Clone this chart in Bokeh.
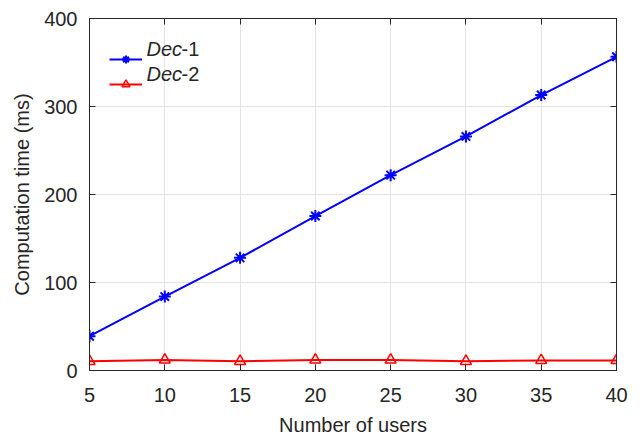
from bokeh.plotting import figure
from bokeh.models import (Range1d, FixedTicker, LinearAxis, Legend, LegendItem, Label)
from bokeh.embed import file_html
from bokeh.resources import INLINE

users = [5, 10, 15, 20, 25, 30, 35, 40]
dec1 = [39, 84, 128, 175.5, 222, 266, 313, 356.5]
dec2 = [10.5, 12, 10.5, 12, 12, 10.5, 11.5, 11.5]
x_ticks = [5, 10, 15, 20, 25, 30, 35, 40]
y_ticks = [0, 100, 200, 300, 400]
series_names = [("Dec", "-1"), ("Dec", "-2")]

FONT = "Liberation Sans"
TXT = "#262626"
FS = "20px"

p = figure(width=635, height=438, output_backend="svg", toolbar_location=None,
           x_range=Range1d(5, 40), y_range=Range1d(0, 400),
           min_border_left=89, min_border_right=19, min_border_top=18, min_border_bottom=68)
p.background_fill_color = "white"
p.border_fill_color = "white"
p.outline_line_color = None

for ax in (p.xaxis[0], p.yaxis[0]):
    ax.major_tick_in = 6
    ax.major_tick_out = 0
    ax.minor_tick_line_color = None
    ax.axis_line_color = TXT
    ax.major_tick_line_color = TXT
    ax.major_label_text_font = FONT
    ax.major_label_text_font_size = FS
    ax.major_label_text_color = TXT
    ax.axis_label_text_font = FONT
    ax.axis_label_text_font_size = FS
    ax.axis_label_text_color = TXT
    ax.axis_label_text_font_style = "normal"

p.xaxis.ticker = FixedTicker(ticks=x_ticks)
p.yaxis.ticker = FixedTicker(ticks=y_ticks)
p.xaxis.axis_label = "Number of users"
p.yaxis.axis_label = "Computation time (ms)"
p.xaxis.major_label_standoff = 17
p.yaxis.major_label_standoff = 12
p.xaxis.axis_label_standoff = 9
p.yaxis.axis_label_standoff = 8

for loc, ticks in (("above", x_ticks), ("right", y_ticks)):
    ax = LinearAxis(ticker=FixedTicker(ticks=ticks),
                    major_label_overrides={t: "" for t in ticks})
    ax.major_tick_in = 6
    ax.major_tick_out = 0
    ax.minor_tick_line_color = None
    ax.axis_line_color = TXT
    ax.major_tick_line_color = TXT
    ax.major_label_standoff = 0
    p.add_layout(ax, loc)

p.grid.grid_line_color = "#e3e3e3"
p.grid.grid_line_width = 1
p.xgrid.ticker = FixedTicker(ticks=x_ticks)
p.ygrid.ticker = FixedTicker(ticks=y_ticks)

l1 = p.line(users, dec1, line_color="#0000ff", line_width=2)
m1 = p.scatter(users, dec1, marker="asterisk", size=12, line_color="#0000ff", line_width=2)
l2 = p.line(users, dec2, line_color="#ff0000", line_width=2)
m2 = p.scatter(users, dec2, marker="triangle", size=11, line_color="#ff0000",
               fill_color=None, line_width=1.5)

legend = Legend(items=[LegendItem(label=" ", renderers=[l1, m1]),
                       LegendItem(label=" ", renderers=[l2, m2])],
                location=(20, 276), orientation="vertical",
                glyph_width=33, glyph_height=20, label_height=20, label_width=1,
                spacing=5, padding=0, margin=0, label_standoff=0,
                border_line_color=None, background_fill_alpha=0)
p.add_layout(legend)

for i, (it, rest) in enumerate(series_names):
    yoff = -30 - 25 * i
    p.add_layout(Label(x=5, y=400, x_offset=57, y_offset=yoff, text=it,
                       text_font=FONT, text_font_size=FS, text_font_style="italic",
                       text_color=TXT, text_baseline="middle"))
    p.add_layout(Label(x=5, y=400, x_offset=57 + 35, y_offset=yoff, text=rest,
                       text_font=FONT, text_font_size=FS, text_color=TXT,
                       text_baseline="middle"))

open("out.html", "w").write(file_html(p, INLINE))
